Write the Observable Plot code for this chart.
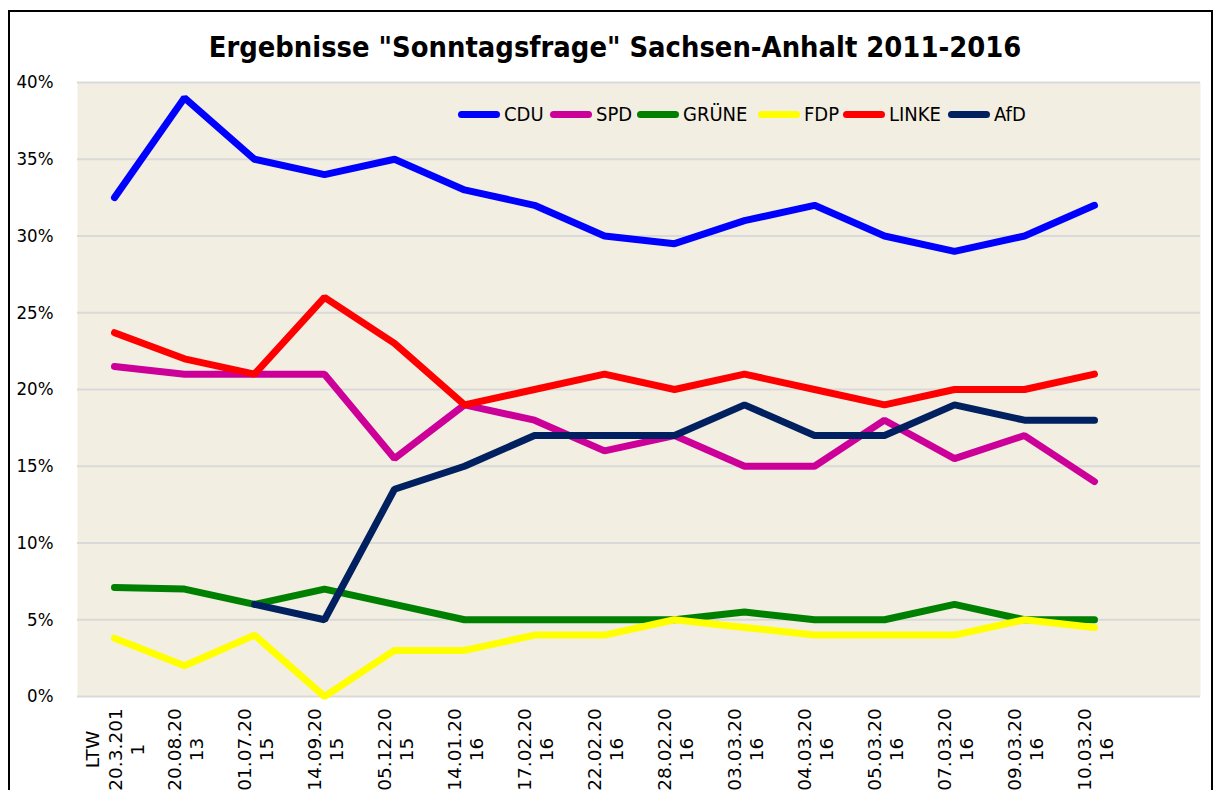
<!DOCTYPE html>
<html><head><meta charset="utf-8">
<script src="https://cdn.jsdelivr.net/npm/d3@7"></script>
<script src="https://cdn.jsdelivr.net/npm/@observablehq/plot@0.6"></script>
<style>
html,body{margin:0;padding:0;background:#fff;overflow:hidden;}
#wrap{position:relative;width:1215px;height:790px;font-family:"DejaVu Sans Condensed","DejaVu Sans",sans-serif;color:#000;}
#chart{position:absolute;left:0;top:0;}
#border{position:absolute;left:8px;top:10px;width:1205px;height:820px;border:2px solid #000;box-sizing:border-box;pointer-events:none;}
#title{position:absolute;left:0;width:1230px;top:30px;text-align:center;font-weight:bold;font-size:28.8px;}
#legend{position:absolute;left:0;top:101px;width:1215px;height:26px;font-size:20px;}
.item{position:absolute;top:0;display:flex;align-items:center;height:26px;}
.swatch{width:42px;height:7px;border-radius:4px;margin-right:4px;}
</style>
</head><body>
<div id="wrap">
  <div id="chart"></div>
  <div id="title"></div>
  <div id="legend"></div>
  <div id="border"></div>
</div>
<script>
const title = 'Ergebnisse "Sonntagsfrage" Sachsen-Anhalt 2011-2016';
const categories = ["LTW 20.3.2011","20.08.2013","01.07.2015","14.09.2015","05.12.2015","14.01.2016","17.02.2016","22.02.2016","28.02.2016","03.03.2016","04.03.2016","05.03.2016","07.03.2016","09.03.2016","10.03.2016"];
const tickLabels = ["LTW\n20.3.201\n1","20.08.20\n13","01.07.20\n15","14.09.20\n15","05.12.20\n15","14.01.20\n16","17.02.20\n16","22.02.20\n16","28.02.20\n16","03.03.20\n16","04.03.20\n16","05.03.20\n16","07.03.20\n16","09.03.20\n16","10.03.20\n16"];
const parties = ["CDU","SPD","GRÜNE","FDP","LINKE","AfD"];
const colors = ["#0000FF","#CC0099","#008000","#FFFF00","#FF0000","#002060"];
const cdu    = [32.5, 39, 35, 34, 35, 33, 32, 30, 29.5, 31, 32, 30, 29, 30, 32];
const spd    = [21.5, 21, 21, 21, 15.5, 19, 18, 16, 17, 15, 15, 18, 15.5, 17, 14];
const gruene = [7.1, 7, 6, 7, 6, 5, 5, 5, 5, 5.5, 5, 5, 6, 5, 5];
const fdp    = [3.8, 2, 4, 0, 3, 3, 4, 4, 5, 4.5, 4, 4, 4, 5, 4.5];
const linke  = [23.7, 22, 21, 26, 23, 19, 20, 21, 20, 21, 20, 19, 20, 20, 21];
const afd    = [null, null, 6, 5, 13.5, 15, 17, 17, 17, 19, 17, 17, 19, 18, 18];
const yTicks = [0, 5, 10, 15, 20, 25, 30, 35, 40];

const seriesValues = [cdu, spd, gruene, fdp, linke, afd];
const data = [];
parties.forEach((p, k) => seriesValues[k].forEach((v, i) => {
  if (v != null) data.push({party: p, date: categories[i], value: v});
}));
const labelMap = new Map(categories.map((c, i) => [c, tickLabels[i]]));

const chart = Plot.plot({
  width: 1215, height: 790,
  marginLeft: 77, marginRight: 15, marginTop: 82, marginBottom: 94,
  style: {fontFamily: '"DejaVu Sans Condensed","DejaVu Sans",sans-serif', color: "#000", background: "transparent", overflow: "visible"},
  x: {type: "point", domain: [...categories, ""], padding: 0.5, label: null},
  y: {domain: [0, 40], label: null},
  color: {domain: parties, range: colors},
  marks: [
    Plot.frame({fill: "#F2EEE1", stroke: "none"}),
    Plot.ruleY(yTicks, {stroke: "#D9D9D9", strokeWidth: 2}),
    Plot.line(data, {x: "date", y: "value", z: "party", stroke: "party", strokeWidth: 7, strokeLinejoin: "miter", strokeLinecap: "round"}),
    Plot.axisY(yTicks, {tickFormat: d => d + "%", tickSize: 0, tickPadding: 24, fontSize: 18.5, label: null}),
    Plot.axisX(categories, {tickFormat: d => labelMap.get(d), tickRotate: -90, tickSize: 0, tickPadding: 53, fontSize: 18.5, fontFamily: '"DejaVu Sans",sans-serif', lineHeight: 1.2, lineAnchor: "middle", textAnchor: "middle", label: null})
  ]
});
document.getElementById("chart").appendChild(chart);
document.getElementById("title").textContent = title;
const legendX = [458, 550, 637, 758, 843, 948];
const legend = document.getElementById("legend");
parties.forEach((p, k) => {
  const it = document.createElement("div"); it.className = "item"; it.style.left = legendX[k] + "px";
  const sw = document.createElement("div"); sw.className = "swatch"; sw.style.background = colors[k];
  const tx = document.createElement("span"); tx.textContent = p;
  it.appendChild(sw); it.appendChild(tx); legend.appendChild(it);
});
</script>
</body></html>
